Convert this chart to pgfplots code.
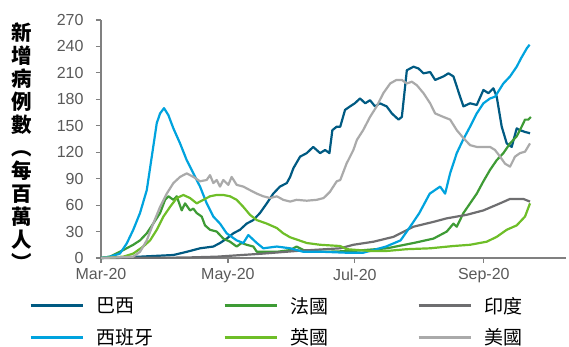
\documentclass[border=0pt]{standalone}
\usepackage{fontspec}
\setmainfont{Liberation Sans}
\newfontfamily\cjk{Noto Sans CJK TC}
\usepackage{pgfplots}
\pgfplotsset{compat=1.18}
\definecolor{brazil}{RGB}{0,90,130}
\definecolor{spain}{RGB}{0,163,222}
\definecolor{france}{RGB}{62,155,53}
\definecolor{uk}{RGB}{110,190,40}
\definecolor{india}{RGB}{110,110,112}
\definecolor{usa}{RGB}{170,170,170}
\definecolor{axisgray}{RGB}{128,128,128}
\definecolor{labelgray}{RGB}{89,89,89}
\begin{document}
\begin{tikzpicture}
\begin{axis}[
 at={(0pt,0pt)}, anchor=south west, scale only axis,
 width=465pt, height=238pt,
 xmin=0, xmax=223.5, ymin=0, ymax=270,
 axis lines=left,
 axis line style={-, draw=axisgray, line width=1.6pt},
 xtick={0,61,122,184}, xticklabels={Mar-20,May-20,Jul-20,Sep-20},
 ytick={0,30,...,270},
 tick align=outside, major tick length=5pt,
 tick style={draw=axisgray, line width=1.2pt},
 tick label style={font=\fontsize{16}{16}\selectfont, text=labelgray},
 yticklabel style={xshift=-9pt},
 xticklabel style={yshift=-2pt},
 /pgf/number format/assume math mode=true,
 ylabel={新\\增\\病\\例\\數\\︵\\每\\百\\萬\\人\\︶},
 ylabel style={rotate=-90, align=center, font=\cjk\bfseries\fontsize{20.5}{23}\selectfont,
   at={(axis description cs:-0.17,0.47)}, anchor=center},
 legend columns=3,
 legend style={at={(axis description cs:-0.155,-0.155)}, anchor=north west, draw=none, fill=none,
   inner sep=0pt, row sep=10pt, font=\cjk\fontsize{19}{19}\selectfont,
   /tikz/every odd column/.append style={column sep=10pt}},
 legend cell align=left,
 legend image code/.code={\draw[#1, line width=3pt] (0pt,0pt) -- (52pt,0pt);},
 every axis plot/.append style={line width=2.2pt, line join=round, mark=none},
 clip=false,
]
% Brazil
\addplot[brazil] coordinates {(0,0)(18.75,1.5)(34.8,3.4)(41.2,7)(47.6,11)(54,13)(57.2,17)(60.4,22)(63.6,28)(66.8,32)(70,39)(73.2,43)(76.4,51)(79.7,62)(82.8,73)(86,81)(89.3,85)(90.9,92)(92.5,102)(95.7,115)(98.9,119)(102,126)(105.3,119)(107.7,122.5)(109.8,119)(111.2,145)(113.3,149)(115,149)(117.3,168)(119.7,172)(122,175.5)(124.5,181)(127,175.5)(129.3,179)(131.7,172)(134,175.5)(137.3,172)(139.8,164)(143,157)(144.6,160)(147,213)(150.2,217)(152.6,215)(155,209.5)(158.2,211)(160.6,202)(164.6,206)(167,209.5)(169.4,206)(172.6,183)(174.2,172)(177.4,175.5)(180.6,173.6)(183.8,190.6)(186.2,187)(188.6,192.5)(190.2,183)(192.6,149)(195,130)(197.4,126)(199.8,147)(201.4,145)(203.8,143)(206.2,141.5)};
\addlegendentry{\makebox[125pt][l]{巴西}}
% France
\addplot[france] coordinates {(0,0)(4.3,1.5)(10.7,9)(15.5,15)(18.75,20)(22,28)(25.1,39)(28.4,51)(30.8,66)(32.4,70)(34.8,66)(36.4,70)(38.8,54)(40.4,62)(42.8,54)(44.4,56)(46,51)(48.4,47)(50,37)(52.4,32)(55.6,30)(58.8,22)(62,18.5)(65.2,13)(67.6,17)(70,15)(73.2,13)(74.9,7)(84.5,7)(90.9,9)(94,13)(97.3,9)(107,7)(121.3,8)(137.4,11)(150.2,17)(159.8,22)(166.2,30)(169.4,39)(171,35.5)(174.2,51)(177.4,62)(180.6,73)(183.8,87)(187,100)(190.2,111)(193.4,119)(196.6,130)(199.8,138)(202.2,149)(203.8,157)(205.4,157)(206.6,160)};
\addlegendentry{\makebox[125pt][l]{法國}}
% India
\addplot[india] coordinates {(0,0)(40,0.5)(55.6,1.5)(78,5)(94,8)(115,11)(121.3,15)(131,18.5)(140.6,24)(150.2,35.5)(159.8,41)(166.2,45)(175.8,49)(183.8,54)(191.8,62)(196.6,67)(203,67)(206.2,64)};
\addlegendentry{印度}
% Spain
\addplot[spain] coordinates {(0,0)(4.3,1.5)(9.1,5)(12.4,16.6)(15.5,32)(18.75,51)(22,77)(25.1,126)(26.8,153)(28.4,164)(30.3,170)(32.4,162)(34.8,147)(38,130)(41.2,111)(44.4,96)(47.6,81)(50.8,62)(54,47)(57.2,39)(60.4,28)(65.2,20)(68.4,17)(70.8,26)(74.9,17)(78,11)(84.5,13)(90.9,11)(97.3,7)(107,7)(118,6)(126,6)(131,9)(137,13)(144,20)(148.6,35.5)(153,51)(158,73)(163,81)(165.4,73)(167.8,96)(171,119)(174,134)(177.4,149)(180.6,164)(183.8,175.5)(187,181)(189.4,183)(193.4,198)(196.6,206)(199.8,217)(202,227)(204.7,238)(206,242)};
\addlegendentry{\makebox[125pt][l]{西班牙}}
% UK
\addplot[uk] coordinates {(0,0)(10.7,1.5)(15.5,5)(20.3,13)(23.6,20)(26.8,32)(30,47)(33.2,58)(36.4,68)(39.6,71.5)(42.8,68)(46,62)(49.2,66)(52.4,70)(55.6,71.5)(58.8,71.5)(62,70)(65.2,66)(68.4,58)(71.6,49)(74.9,43)(79.7,39)(84.5,34)(87.6,28)(90.9,23.5)(94,21)(98.9,17)(105.3,15)(114.9,13.6)(118,10)(129.3,8)(137.4,8)(147,10)(158.2,11)(169.4,13.6)(177.4,15)(185.4,18.5)(190.2,24)(195,32)(199.8,37)(203.8,47)(206.2,62)};
\addlegendentry{\makebox[125pt][l]{英國}}
% USA
\addplot[usa] coordinates {(0,0)(15.5,1.5)(18.75,7)(22,20)(25.1,39)(28.4,58)(31.6,73)(34.8,85)(38,92)(41.2,96)(44.4,92)(47.6,87)(50.8,88.5)(52.4,94)(54,85)(55.6,88.5)(57.2,81)(58.8,88.5)(61.2,83)(62.8,92)(65.2,83)(68.4,81)(71.6,77)(74.9,73)(78,70)(81.3,68)(84.5,70)(87.6,66)(90.9,64)(94,66)(98.9,65)(103.7,66)(107,68)(110,75)(113.3,87)(115,88.5)(118,107)(121.3,122.5)(123,134)(126,145)(129.3,160)(132.5,172)(135.7,187)(139,198)(142,202)(144.6,202)(147,198)(149.4,200)(151.8,196)(155,187)(158.2,175.5)(160.6,164)(164.6,160)(167.8,157)(171,145)(174.2,136)(177.4,128)(180.6,126)(183.8,126)(187,126)(189.4,122.5)(191.8,115)(194.2,107)(196.6,103.6)(199,115)(201.4,119)(203.8,120.6)(206.2,130)};
\addlegendentry{美國}
\end{axis}
\pgfresetboundingbox
\useasboundingbox (-101pt,-89pt) rectangle (468pt,258pt);
\end{tikzpicture}
\end{document}
